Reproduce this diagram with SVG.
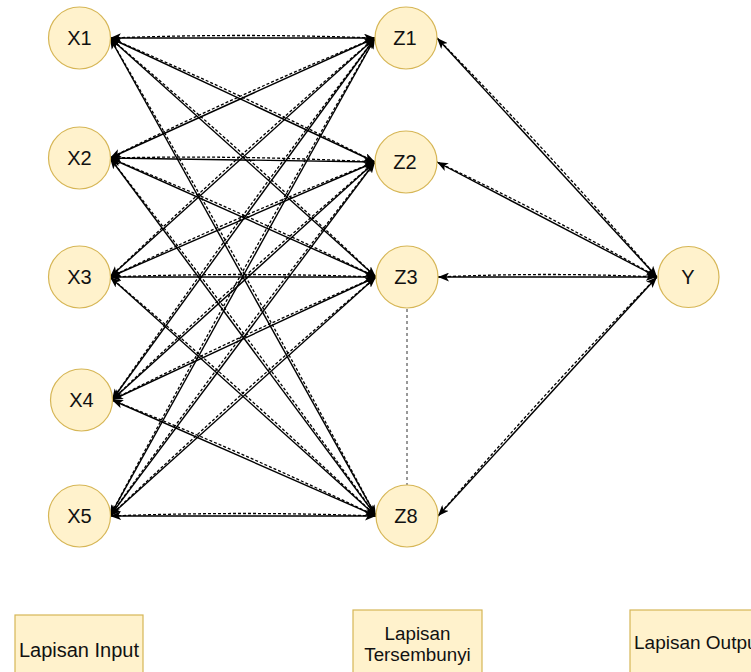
<svg xmlns="http://www.w3.org/2000/svg" width="751" height="672" viewBox="0 0 751 672">
<defs>
<marker id="ah" viewBox="0 0 10 8" refX="10" refY="4" markerWidth="11" markerHeight="9" markerUnits="userSpaceOnUse" orient="auto">
<path d="M0,0 L10,4 L0,8 L2.5,4 z" fill="#000"/>
</marker>
<style>
.node circle{fill:#fff2cc;stroke:#d6b656;stroke-width:1.2}
.box rect{fill:#fff2cc;stroke:#d6b656;stroke-width:1.2}
text{font-family:"Liberation Sans",Arial,sans-serif;fill:#111;text-anchor:middle}
.nl{font-size:20px}
.s{fill:none;stroke:#000;stroke-width:1.4;marker-end:url(#ah)}
.d{fill:none;stroke:#000;stroke-width:1.3;stroke-dasharray:3 2;marker-end:url(#ah)}
.v{fill:none;stroke:#333;stroke-width:1;stroke-dasharray:3 3}
</style>
</defs>
<rect width="751" height="672" fill="#fff"/>
<g id="connectors">
<!-- X1 -->
<path class="s" d="M110,38 L375,38"/><path class="d" d="M375,38 Q242.5,33 110,38"/>
<path class="s" d="M110,38 L375,162"/><path class="d" d="M375,162 Q244.6,95.5 110,38"/>
<path class="s" d="M110,38 L376,277"/><path class="d" d="M376,277 Q246.3,153.8 110,38"/>
<path class="s" d="M110,38 L376,516"/><path class="d" d="M376,516 Q247.4,274.6 110,38"/>
<!-- X2 -->
<path class="s" d="M110,158 L375,38"/><path class="d" d="M375,38 Q240.4,93.4 110,158"/>
<path class="s" d="M110,158 L375,162"/><path class="d" d="M375,162 Q242.6,155 110,158"/>
<path class="s" d="M110,158 L376,277"/><path class="d" d="M376,277 Q245,213 110,158"/>
<path class="s" d="M110,158 L376,516"/><path class="d" d="M376,516 Q247,334 110,158"/>
<!-- X3 -->
<path class="s" d="M110,277 L375,38"/><path class="d" d="M375,38 Q239.2,153.8 110,277"/>
<path class="s" d="M110,277 L375,162"/><path class="d" d="M375,162 Q240.5,214.9 110,277"/>
<path class="s" d="M110,277 L376,277"/><path class="d" d="M376,277 Q243,272 110,277"/>
<path class="s" d="M110,277 L376,516"/><path class="d" d="M376,516 Q246.3,392.8 110,277"/>
<!-- X4 -->
<path class="s" d="M112,400 L375,38"/><path class="d" d="M375,38 Q239.5,216.1 112,400"/>
<path class="s" d="M112,400 L375,162"/><path class="d" d="M375,162 Q240.1,277.3 112,400"/>
<path class="s" d="M112,400 L376,277"/><path class="d" d="M376,277 Q241.9,334 112,400"/>
<path class="s" d="M112,400 L376,516"/><path class="d" d="M376,516 Q246,453.4 112,400"/>
<!-- X5 -->
<path class="s" d="M110,516 L375,38"/><path class="d" d="M375,38 Q238.1,274.6 110,516"/>
<path class="s" d="M110,516 L375,162"/><path class="d" d="M375,162 Q238.5,336 110,516"/>
<path class="s" d="M110,516 L376,277"/><path class="d" d="M376,277 Q239.7,392.8 110,516"/>
<path class="s" d="M110,516 L376,516"/><path class="d" d="M376,516 Q243,511 110,516"/>
<!-- Z to Y -->
<path class="s" d="M657,277 L437,38"/><path class="d" d="M437,38 Q550.7,154.1 657,277"/>
<path class="s" d="M657,277 L437,162"/><path class="d" d="M437,162 Q549.3,215.1 657,277"/>
<path class="s" d="M657,277 L438,277"/><path class="d" d="M438,277 Q547.5,272 657,277"/>
<path class="s" d="M657,277 L438,516"/><path class="d" d="M438,516 Q543.8,393.1 657,277"/>
<!-- omitted hidden nodes -->
<path class="v" d="M407,309 L407,485"/>
</g>
<g id="X1" class="node"><circle cx="79.5" cy="38" r="31"/><text class="nl" x="79.5" y="45.3">X1</text></g>
<g id="X2" class="node"><circle cx="79.5" cy="158" r="31"/><text class="nl" x="79.5" y="165.3">X2</text></g>
<g id="X3" class="node"><circle cx="79.5" cy="277" r="31"/><text class="nl" x="79.5" y="284.3">X3</text></g>
<g id="X4" class="node"><circle cx="81.5" cy="400" r="31"/><text class="nl" x="81.5" y="407.3">X4</text></g>
<g id="X5" class="node"><circle cx="79.5" cy="516" r="31"/><text class="nl" x="79.5" y="523.3">X5</text></g>
<g id="Z1" class="node"><circle cx="406" cy="38" r="31"/><text class="nl" x="405" y="45.3">Z1</text></g>
<g id="Z2" class="node"><circle cx="406" cy="162" r="31"/><text class="nl" x="405" y="169.3">Z2</text></g>
<g id="Z3" class="node"><circle cx="407" cy="277" r="31"/><text class="nl" x="406" y="284.3">Z3</text></g>
<g id="Z8" class="node"><circle cx="407" cy="516" r="31"/><text class="nl" x="406" y="523.3">Z8</text></g>
<g id="Y" class="node"><circle cx="688.5" cy="277" r="30.5"/><text class="nl" x="688" y="284.3">Y</text></g>
<g id="lapisan-input" class="box"><rect x="15" y="615" width="128" height="70"/><text x="79" y="657" style="font-size:20px">Lapisan Input</text></g>
<g id="lapisan-tersembunyi" class="box"><rect x="353" y="610" width="129" height="70"/><text x="417.5" y="640" style="font-size:18.8px">Lapisan</text><text x="417.5" y="661" style="font-size:18.8px">Tersembunyi</text></g>
<g id="lapisan-output" class="box"><rect x="630" y="610" width="140" height="70"/><text x="634" y="649" style="font-size:19px;text-anchor:start">Lapisan Output</text></g>
</svg>
